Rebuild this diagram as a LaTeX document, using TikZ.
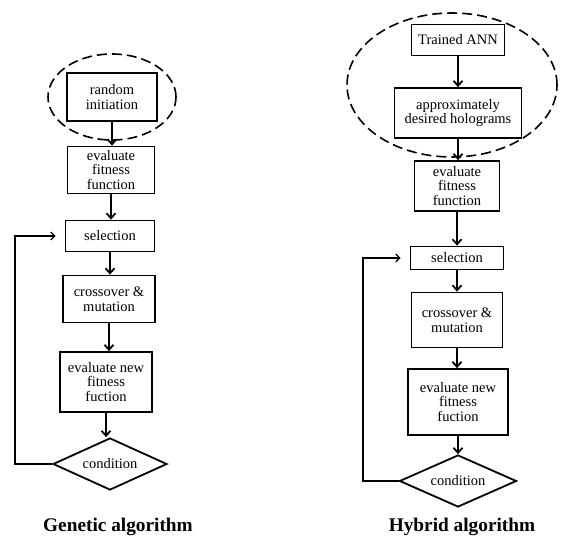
\documentclass[tikz,border=0pt]{standalone}
\usepackage{fontspec}
\setmainfont{Liberation Serif}
\usetikzlibrary{shapes.geometric,arrows.meta}
\begin{document}
\begin{tikzpicture}[x=1pt,y=-1pt,
  box/.style={draw,line width=1.8pt,align=center,inner sep=0pt,font=\fontsize{14.5}{14.5}\selectfont},
  cond/.style={draw,diamond,aspect=2.2,line width=1.8pt,inner sep=0pt,minimum width=114pt,minimum height=52pt,font=\fontsize{14.5}{14.5}\selectfont},
  grp/.style={draw,ellipse,dashed,dash pattern=on 10pt off 5pt,line width=1.6pt,inner sep=0pt},
  flow/.style={line width=1.8pt,-{Straight Barb[length=5pt,width=9pt,line width=1.8pt]}},
  back/.style={line width=1.1pt,-{Straight Barb[length=4pt,width=8pt,line width=1.2pt]},shorten >=9pt},
  title/.style={font=\bfseries\fontsize{19.3}{21}\selectfont}]
\useasboundingbox (0,0) rectangle (561,537);

% ---- Genetic algorithm ----
\node[grp,minimum width=128pt,minimum height=86pt] (e1) at (112,97) {};
\node[box,minimum width=90pt,minimum height=48pt] (a1) at (112,97) {random\\initiation};
\node[box,minimum width=87pt,minimum height=47pt] (a2) at (111,170) {evaluate\\fitness\\function};
\node[box,minimum width=89pt,minimum height=31pt] (a3) at (110,236) {selection};
\node[box,minimum width=92pt,minimum height=47pt] (a4) at (109,299) {crossover \&\\mutation};
\node[box,minimum width=92pt,minimum height=60pt] (a5) at (106,382) {evaluate new\\fitness\\fuction};
\node[cond] (a6) at (110,464) {condition};
\coordinate (l1) at (15,464);
\node[title] (t1) at (118,527) {Genetic algorithm};

\draw[flow] (a1.south) -- (a1.south |- a2.north);
\draw[flow] (a2.south) -- (a2.south |- a3.north);
\draw[flow] (a3.south) -- (a3.south |- a4.north);
\draw[flow] (a4.south) -- (a4.south |- a5.north);
\draw[flow] (a5.south) -- (a5.south |- a6.north);
\draw[back] (a6.west) -- (l1) |- (a3.west);

% ---- Hybrid algorithm ----
\node[grp,minimum width=210pt,minimum height=144pt] (e2) at (452,85) {};
\node[box,minimum width=93pt,minimum height=31pt] (b0) at (458,40) {Trained ANN};
\node[box,minimum width=127pt,minimum height=50pt] (b1) at (458,113) {approximately\\desired holograms};
\node[box,minimum width=85pt,minimum height=50pt] (b2) at (457,186) {evaluate\\fitness\\function};
\node[box,minimum width=93pt,minimum height=23pt] (b3) at (457,258) {selection};
\node[box,minimum width=91pt,minimum height=55pt] (b4) at (457,320) {crossover \&\\mutation};
\node[box,minimum width=100pt,minimum height=66pt] (b5) at (458,402) {evaluate new\\fitness\\fuction};
\node[cond,minimum width=117pt] (b6) at (458,481) {condition};
\coordinate (l2) at (363,481);
\node[title] (t2) at (462,527) {Hybrid algorithm};

\draw[flow] (b0.south) -- (b0.south |- b1.north);
\draw[flow] (b1.south) -- (b1.south |- b2.north);
\draw[flow] (b2.south) -- (b2.south |- b3.north);
\draw[flow] (b3.south) -- (b3.south |- b4.north);
\draw[flow] (b4.south) -- (b4.south |- b5.north);
\draw[flow] (b5.south) -- (b5.south |- b6.north);
\draw[back] (b6.west) -- (l2) |- (b3.west);
\end{tikzpicture}
\end{document}
